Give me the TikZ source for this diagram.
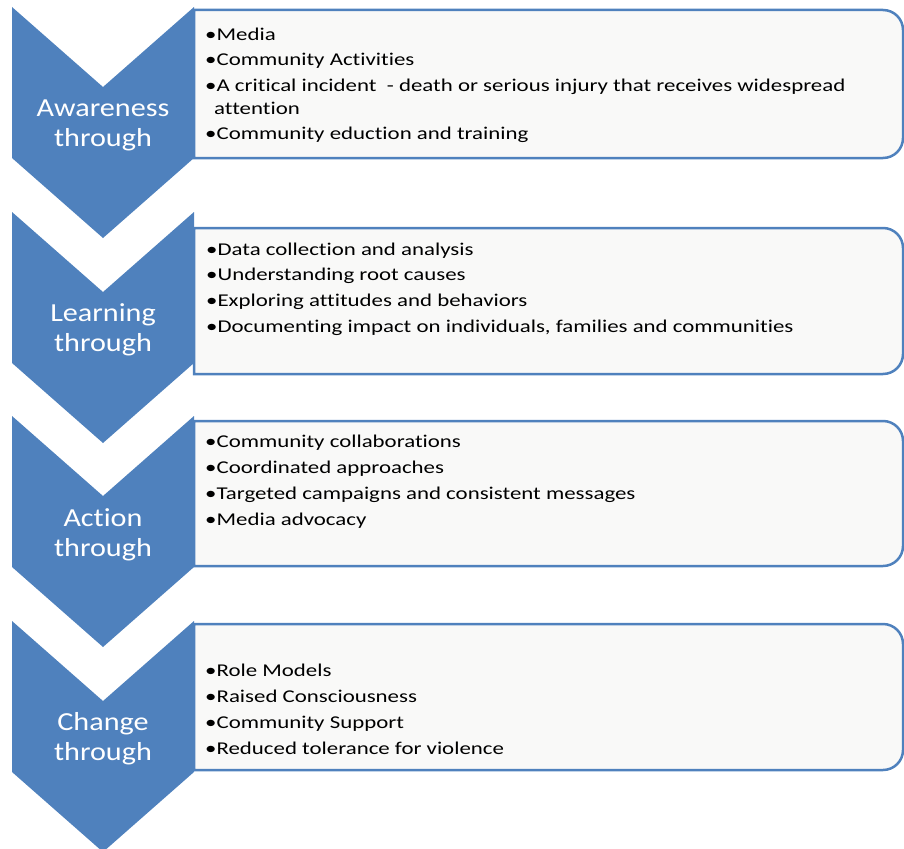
\documentclass[tikz,border=0pt]{standalone}
\usepackage{fontspec}
\newfontfamily\bodyfont[FakeStretch=1.27,Ligatures={NoCommon,NoRare}]{Carlito}
\newfontfamily\labfont[FakeStretch=1.16,Ligatures={NoCommon,NoRare}]{Carlito}
\definecolor{chevblue}{HTML}{4F81BD}
\definecolor{boxfill}{HTML}{F9F9F8}
\tikzset{
  chevron/.style={fill=chevblue},
  listbox/.style={draw=chevblue, line width=2.5pt, fill=boxfill},
  lab/.style={text=white, font=\labfont\fontsize{26}{30}\selectfont, align=center, inner sep=0pt},
  item/.style={anchor=base west, font=\bodyfont\fontsize{18}{22}\selectfont, text=black, inner sep=0pt}
}
\begin{document}
\begin{tikzpicture}[x=1pt,y=-1pt]
\useasboundingbox (0,0) rectangle (904,848);
\clip (0,0) rectangle (904,848);
% list boxes
\foreach \t/\b in {10/158, 228/374, 421/566, 624/770}{
  \draw[listbox] (194,\t) -- (883,\t) arc[start angle=-90,end angle=0,radius=20]
    -- (903,\b-20) arc[start angle=0,end angle=90,radius=20] -- (194,\b) -- cycle;
}
% chevrons
\foreach \t in {7,212,416,621}{
  \fill[chevron] (12,\t) -- (103,\t+80) -- (194,\t) -- (194,\t+151) -- (103,\t+231) -- (12,\t+151) -- cycle;
}
% chevron labels
\node[lab] (l1) at (103,125.5) {Awareness\\through};
\node[lab] (l2) at (103,329.5) {Learning\\through};
\node[lab] (l3) at (103,534.5) {Action\\through};
\node[lab] (l4) at (103,738.5) {Change\\through};
% box 1
\node[item] (a1) at (205,40.5) {•Media};
\node[item] (a2) at (205,65.5) {•Community Activities};
\node[item] (a3) at (205,91.5) {•A critical incident\ \ - death or serious injury that receives widespread};
\node[item] (a4) at (214,114.5) {attention};
\node[item] (a5) at (205,139.5) {•Community eduction and training};
% box 2
\node[item] (b1) at (206,255.5) {•Data collection and analysis};
\node[item] (b2) at (206,280.5) {•Understanding root causes};
\node[item] (b3) at (206,306.5) {•Exploring attitudes and behaviors};
\node[item] (b4) at (206,332.5) {•Documenting impact on individuals, families and communities};
% box 3
\node[item] (c1) at (205,447.5) {•Community collaborations};
\node[item] (c2) at (205,473.5) {•Coordinated approaches};
\node[item] (c3) at (205,499.5) {•Targeted campaigns and consistent messages};
\node[item] (c4) at (205,525.5) {•Media advocacy};
% box 4
\node[item] (d1) at (205,676.5) {•Role Models};
\node[item] (d2) at (205,702.5) {•Raised Consciousness};
\node[item] (d3) at (205,728.5) {•Community Support};
\node[item] (d4) at (205,754.5) {•Reduced tolerance for violence};
\end{tikzpicture}
\end{document}
